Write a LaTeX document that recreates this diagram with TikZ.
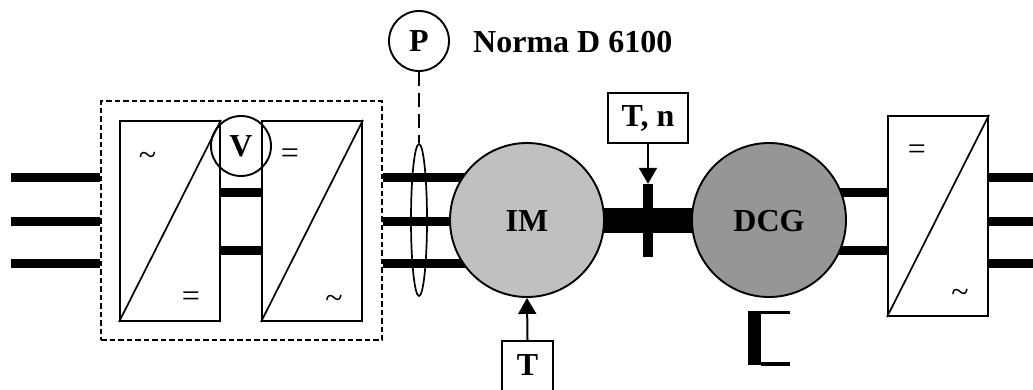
\documentclass[tikz,border=0pt]{standalone}
\usepackage{fontspec}
\setmainfont{Liberation Serif}
\usetikzlibrary{arrows.meta,backgrounds,calc,shapes.geometric}
\tikzset{
  lbl/.style={font=\fontsize{32}{32}\selectfont\bfseries,inner sep=0pt,text=black},
  sym/.style={font=\fontsize{32}{32}\selectfont,inner sep=0pt,text=black},
  conv/.style={draw=black,line width=2pt,fill=white,inner sep=0pt,minimum width=100pt,minimum height=200pt},
  diag/.style={draw=black,line width=1.7pt},
  meter/.style={draw=black,line width=1.9pt,circle,inner sep=0pt,minimum size=60pt},
  machine/.style={draw=black,line width=1.9pt,circle,inner sep=0pt,minimum size=154pt},
  tagbox/.style={draw=black,line width=2pt,fill=white,inner sep=0pt},
  wire/.style={draw=black,line width=9pt},
  solidbar/.style={fill=black,draw=none,inner sep=0pt},
  probe/.style={draw=black,line width=2pt,-{Triangle[length=16pt,width=18pt]}},
}
\begin{document}
\begin{tikzpicture}[x=1pt,y=-1pt]
\useasboundingbox (0,0) rectangle (1033,389);
\clip (0,0) rectangle (1033,389);
% converters
\node[draw=black,line width=1.7pt,dash pattern=on 5.5pt off 3pt,inner sep=0pt,minimum width=281pt,minimum height=239pt] (vfd) at (241.5,220.5) {};
\node[conv] (rect) at (170,221) {};
\node[conv] (inv) at (312,221) {};
\node[conv] (out) at (938,216) {};
\draw[diag] (rect.south west) -- (rect.north east);
\draw[diag] (inv.south west) -- (inv.north east);
\draw[diag] (out.south west) -- (out.north east);
\node[sym] (s1) at (147.5,159) {\textasciitilde};
\node[sym] (s2) at (191,299) {=};
\node[sym] (s3) at (290,156) {=};
\node[sym] (s4) at (334,302) {\textasciitilde};
\node[sym] (s5) at (917,152) {=};
\node[sym] (s6) at (960,296) {\textasciitilde};
% meters
\node[meter] (V) at (241,146) {};
\node[lbl] (Vt) at (241,146.5) {V};
\node[meter] (P) at (419,41) {};
\node[lbl] (Pt) at (419,41) {P};
\node[lbl,anchor=west] (norma) at (473,42) {Norma D 6100};
\node[draw=black,line width=1.7pt,ellipse,inner sep=0pt,minimum width=16pt,minimum height=152pt] (clamp) at (419,220) {};
% machines
\node[machine,fill={rgb,255:red,192;green,192;blue,192}] (IM) at (527,220) {};
\node[lbl] (IMt) at (527,221) {IM};
\node[machine,fill={rgb,255:red,150;green,150;blue,150}] (DCG) at (769,220) {};
\node[lbl] (DCGt) at (769,221) {DCG};
% shaft
\node[solidbar,minimum width=10pt,minimum height=73pt] (cross) at (648,220.5) {};
% boxes
\node[tagbox,minimum width=80pt,minimum height=50pt] (Tn) at (648,118) {};
\node[lbl] (Tnt) at (648,118) {T, n};
\node[tagbox,minimum width=51pt,minimum height=60pt] (T) at (527.5,371) {};
\node[lbl] (Tt) at (527.5,365) {T};
\draw[probe] (Tn.south) -- (cross.north);
\draw[probe] (T.north) -- (IM.south);
\draw[black,line width=1.9pt,dash pattern=on 14pt off 7pt] (P.south) -- (clamp.north);
% bracket
\coordinate (brtop) at (790,312.5);
\coordinate (brbot) at (790,364);
\node[solidbar,minimum width=13pt,minimum height=54pt] (brk) at (754.5,338) {};
\draw[black,line width=3.5pt] (brk.north east |- brtop) -- (brtop);
\draw[black,line width=3.5pt] (brk.south east |- brbot) -- (brbot);
% wires
\begin{scope}[on background layer]
\foreach \n/\y in {a/177,b/221,c/263}{
  \coordinate (in\n) at (11,\y);
  \draw[wire] (in\n) -- (vfd.west |- in\n);
  \draw[wire] (vfd.east |- in\n) -- (IM.center |- in\n);
  \coordinate (far\n) at (1033,\y);
  \draw[wire] (out.east |- far\n) -- (far\n);
}
\foreach \n/\y in {d/192.5,e/250.5}{
  \coordinate (dc\n) at (241,\y);
  \draw[wire] (rect.east |- dc\n) -- (inv.west |- dc\n);
  \draw[wire] (DCG.center |- 0,\y) -- (out.west |- 0,\y);
}
\draw[black,line width=25pt] (IM.center) -- (DCG.center);
\end{scope}
\end{tikzpicture}
\end{document}
